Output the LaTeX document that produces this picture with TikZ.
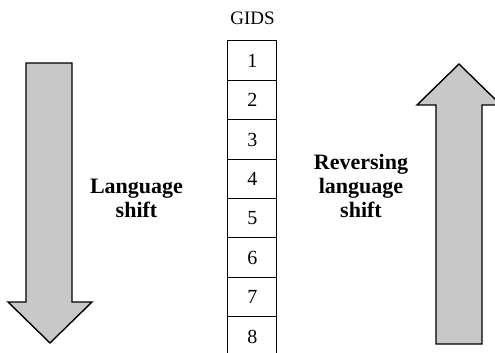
\documentclass[tikz,border=0pt]{standalone}
\usepackage{fontspec}
\setmainfont{Liberation Serif}
\usetikzlibrary{positioning}
\definecolor{arrowgray}{RGB}{200,200,200}
\tikzset{
  >=latex,
}
\tikzstyle{bigarrow}=[draw=black,line width=.7pt,fill=arrowgray,line join=miter]
\tikzstyle{gidsbox}=[draw,line width=.5pt,minimum width=24.5pt,minimum height=19.7pt,inner sep=0pt,font=\fontsize{10}{11}\selectfont]
\tikzstyle{shiftlabel}=[font=\fontsize{11}{12}\selectfont\bfseries,align=center]

\begin{document}
\begin{tikzpicture}[x=.5pt,y=-.5pt]
    \useasboundingbox (0,0) rectangle (495,353);
    \clip (0,0) rectangle (495,353);
    % language shift: downwards
    \draw[bigarrow] (26,63) -- (72,63) -- (72,302) -- (92,302)
      -- (50,343) -- (8,302) -- (26,302) -- cycle;
    % reversing: upwards
    \draw[bigarrow] (436,344) -- (482,344) -- (482,105) -- (501,105)
      -- (459,64) -- (417,105) -- (436,105) -- cycle;

    \foreach \i in {1,...,8}
      \node[gidsbox] (g\i) at (252.5,{41+39.4*(\i-.5)}) {\i};
    \node[above=4.3pt of g1,font=\fontsize{9.5}{11}\selectfont] (gids) {GIDS};

    \node[shiftlabel] (lshift) at (136.5,198) {Language\\shift};
    \node[shiftlabel] (rshift) at (361,186) {Reversing\\language\\shift};
\end{tikzpicture}
\end{document}
